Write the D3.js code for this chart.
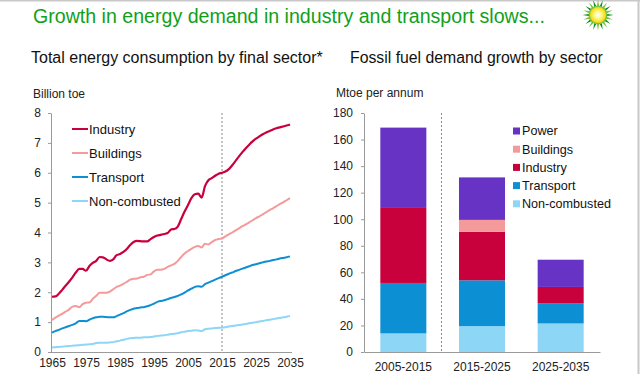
<!DOCTYPE html>
<meta charset="utf-8">
<style>
    body{
        margin: 0;
        background: #fff;
    }
    svg{
        font-family: "Liberation Sans", Arial, sans-serif;
    }
    .axis path, .axis line{
        stroke: #9a9a9a;
    }
    .axis text{
        font-size: 12px;
        fill: #222;
    }
</style>
<body>
<svg id="chart" width="640" height="374"></svg>
</body>
<script src="https://d3js.org/d3.v7.min.js"></script>
<script>
// left chart: billion toe, 1965-2035
var years = d3.range(1965, 2036);
var industry = [1.85,1.86,1.95,2.08,2.22,2.35,2.5,2.66,2.78,2.78,
    2.72,2.88,2.98,3.05,3.18,3.17,3.1,3.05,3.1,3.24,
    3.28,3.35,3.45,3.58,3.68,3.72,3.71,3.7,3.7,3.78,
    3.85,3.9,3.92,3.95,3.98,4.1,4.12,4.2,4.45,4.7,
    4.92,5.15,5.28,5.3,5.17,5.55,5.75,5.82,5.9,5.97,
    6.0,6.04,6.12,6.25,6.4,6.55,6.69,6.82,6.94,7.05,
    7.14,7.22,7.29,7.35,7.4,7.45,7.49,7.52,7.55,7.58,7.61];
var buildings = [1.07,1.15,1.22,1.28,1.35,1.42,1.52,1.54,1.5,1.6,
    1.65,1.66,1.78,1.88,1.98,1.98,1.98,2.02,2.1,2.18,
    2.22,2.28,2.35,2.42,2.45,2.46,2.5,2.52,2.58,2.6,
    2.7,2.75,2.75,2.78,2.85,2.9,2.95,3.05,3.18,3.3,
    3.38,3.45,3.52,3.55,3.5,3.62,3.6,3.68,3.75,3.78,
    3.8,3.87,3.94,4.0,4.07,4.14,4.21,4.27,4.34,4.41,
    4.48,4.54,4.61,4.68,4.75,4.81,4.88,4.95,5.01,5.08,5.15];
var transport = [0.65,0.7,0.74,0.79,0.83,0.87,0.91,0.96,1.04,1.04,
    1.03,1.08,1.13,1.16,1.18,1.18,1.17,1.16,1.16,1.2,
    1.25,1.3,1.36,1.41,1.45,1.47,1.49,1.5,1.53,1.57,
    1.62,1.68,1.71,1.73,1.77,1.81,1.84,1.88,1.93,1.99,
    2.06,2.12,2.18,2.2,2.18,2.27,2.32,2.37,2.42,2.47,
    2.52,2.57,2.62,2.66,2.71,2.75,2.79,2.83,2.87,2.91,
    2.94,2.97,3.0,3.03,3.05,3.08,3.1,3.13,3.15,3.17,3.2];
var noncombusted = [0.15,0.16,0.17,0.18,0.19,0.2,0.21,0.22,0.23,0.24,
    0.25,0.26,0.27,0.3,0.31,0.31,0.31,0.32,0.33,0.36,
    0.38,0.41,0.44,0.46,0.47,0.48,0.48,0.49,0.49,0.5,
    0.52,0.54,0.55,0.56,0.58,0.6,0.61,0.63,0.66,0.68,
    0.7,0.71,0.73,0.72,0.7,0.76,0.78,0.79,0.8,0.81,
    0.82,0.83,0.85,0.87,0.89,0.9,0.92,0.94,0.96,0.98,
    1.0,1.02,1.04,1.06,1.08,1.1,1.12,1.14,1.16,1.18,1.21];
var lineNames = ["Industry", "Buildings", "Transport", "Non-combusted"];
var lineColors = ["#c8003c", "#f59a9a", "#0d8fd3", "#8dd6f6"];
var yearTicks = [1965, 1975, 1985, 1995, 2005, 2015, 2025, 2035];

// right chart: Mtoe per annum
var periods = ["2005-2015", "2015-2025", "2025-2035"];
var nonCombustedGrowth = [14, 19.5, 21.5];
var transportGrowth = [38, 34.5, 15];
var industryGrowth = [56.5, 36.5, 12.5];
var buildingsGrowth = [0, 9, 0];
var powerGrowth = [60.5, 32, 20.5];
var barNames = ["Non-combusted", "Transport", "Industry", "Buildings", "Power"];
var barColors = ["#8dd6f6", "#0d8fd3", "#c8003c", "#f59a9a", "#6633c4"];

var svg = d3.select("#chart");

// frame lines at top and right edge
svg.append("line").attr("x1", 0).attr("x2", 640).attr("y1", 0.5).attr("y2", 0.5)
    .attr("stroke", "#c8c8c8").attr("stroke-width", 2);
svg.append("line").attr("x1", 638.5).attr("x2", 638.5).attr("y1", 0).attr("y2", 374)
    .attr("stroke", "#c8c8c8").attr("stroke-width", 2);

// titles
svg.append("text").text("Growth in energy demand in industry and transport slows...")
    .attr("x", 33).attr("y", 23).attr("font-size", 19.6).attr("fill", "#11a01a");
svg.append("text").text("Total energy consumption by final sector*")
    .attr("x", 31).attr("y", 63).attr("font-size", 16).attr("fill", "#111");
svg.append("text").text("Fossil fuel demand growth by sector")
    .attr("x", 350).attr("y", 63).attr("font-size", 15.8).attr("fill", "#111");

// bp helios logo
var logo = svg.append("g").attr("transform", "translate(598,15)");
var petal = d3.range(20);
logo.selectAll(".petal").data(petal).enter().append("path")
    .attr("d", "M-2.6,0 L0,-15.5 L2.6,0 Z")
    .attr("fill", function(d, i) { return i % 2 ? "#0a8c2a" : "#7cc242"; })
    .attr("transform", function(d, i) { return "rotate(" + (i * 18) + ")"; });
var grad = svg.append("defs").append("radialGradient").attr("id", "sun");
grad.append("stop").attr("offset", "0%").attr("stop-color", "#ffffff");
grad.append("stop").attr("offset", "45%").attr("stop-color", "#fff68a");
grad.append("stop").attr("offset", "100%").attr("stop-color", "#f5d800");
logo.append("circle").attr("r", 9.5).attr("fill", "#7cc242");
logo.append("circle").attr("r", 8).attr("fill", "url(#sun)");

// ---------- left line chart ----------
var x = d3.scaleLinear().domain([1965, 2035]).range([52, 290]);
var y = d3.scaleLinear().domain([0, 8]).range([352, 113]);

svg.append("text").text("Billion toe").attr("x", 33).attr("y", 98)
    .attr("font-size", 12).attr("fill", "#222");

svg.append("g").attr("class", "axis")
    .attr("transform", "translate(51,0)")
    .call(d3.axisLeft(y).ticks(8).tickSize(3).tickSizeOuter(0).tickPadding(7))
    .selectAll("text").attr("font-size", 13);

svg.append("g").attr("class", "axis")
    .attr("transform", "translate(0,352)")
    .call(d3.axisBottom(x).tickValues(yearTicks).tickFormat(d3.format("d"))
        .tickSize(0).tickPadding(6))
    .select(".domain").attr("d", "M51,0.5H292");

svg.append("line").attr("x1", x(2015)).attr("x2", x(2015))
    .attr("y1", y(8)).attr("y2", y(0))
    .attr("stroke", "#8a8a8a").attr("stroke-dasharray", "2,2");

var series = [industry, buildings, transport, noncombusted];
var line = d3.line()
    .x(function(d, i) { return x(years[i]); })
    .y(function(d) { return y(d); })
    .curve(d3.curveMonotoneX);

svg.selectAll(".series").data(series).enter().append("path")
    .attr("fill", "none")
    .attr("stroke", function(d, i) { return lineColors[i]; })
    .attr("stroke-width", function(d, i) { return i == 0 ? 2.2 : 2; })
    .attr("d", line);

var leg1 = svg.selectAll(".leg1").data(lineNames).enter().append("g")
    .attr("transform", function(d, i) { return "translate(72," + (129 + i * 24) + ")"; });
leg1.append("line").attr("x1", 0).attr("x2", 16)
    .attr("stroke", function(d, i) { return lineColors[i]; }).attr("stroke-width", 2);
leg1.append("text").text(function(d) { return d; })
    .attr("x", 17).attr("dy", "0.35em").attr("font-size", 13).attr("fill", "#111");

// ---------- right stacked bars ----------
var xb = d3.scaleBand().domain(periods).range([364, 600])
    .paddingInner(0.415).paddingOuter(0.2075);
var yb = d3.scaleLinear().domain([0, 180]).range([352, 113]);

svg.append("text").text("Mtoe per annum").attr("x", 336).attr("y", 97)
    .attr("font-size", 12).attr("fill", "#222");

svg.append("g").attr("class", "axis")
    .attr("transform", "translate(364,0)")
    .call(d3.axisLeft(yb).tickValues(d3.range(0, 181, 20)).tickSize(3)
        .tickSizeOuter(0).tickPadding(8))
    .selectAll("text").attr("font-size", 13);

svg.append("g").attr("class", "axis")
    .attr("transform", "translate(0,352)")
    .call(d3.axisBottom(xb).tickSize(0).tickPadding(10))
    .selectAll("text").attr("font-size", 12.5);

svg.append("line").attr("x1", 441.5).attr("x2", 441.5)
    .attr("y1", yb(180)).attr("y2", yb(0))
    .attr("stroke", "#8a8a8a").attr("stroke-dasharray", "2,2");

var table = periods.map(function(p, i) {
    return {
        period: p,
        "Non-combusted": nonCombustedGrowth[i],
        "Transport": transportGrowth[i],
        "Industry": industryGrowth[i],
        "Buildings": buildingsGrowth[i],
        "Power": powerGrowth[i]
    };
});
var stacked = d3.stack().keys(barNames)(table);

svg.selectAll(".layer").data(stacked).enter().append("g")
    .attr("fill", function(d, i) { return barColors[i]; })
    .selectAll("rect").data(function(d) { return d; }).enter().append("rect")
        .attr("x", function(d) { return xb(d.data.period); })
        .attr("width", xb.bandwidth())
        .attr("y", function(d) { return yb(d[1]); })
        .attr("height", function(d) { return yb(d[0]) - yb(d[1]); });

var legendOrder = ["Power", "Buildings", "Industry", "Transport", "Non-combusted"];
var leg2 = svg.selectAll(".leg2").data(legendOrder).enter().append("g")
    .attr("transform", function(d, i) { return "translate(513," + (131 + i * 18.2) + ")"; });
leg2.append("rect").attr("x", 0).attr("y", -3.5).attr("width", 7).attr("height", 7)
    .attr("fill", function(d) { return barColors[barNames.indexOf(d)]; });
leg2.append("text").text(function(d) { return d; })
    .attr("x", 9).attr("dy", "0.35em").attr("font-size", 12.6).attr("fill", "#111");
</script>
